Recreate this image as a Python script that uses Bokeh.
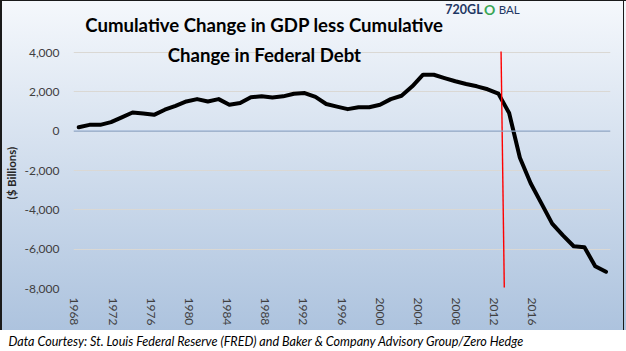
import math
from bokeh.plotting import figure
from bokeh.models import Range1d, FixedTicker, NumeralTickFormatter, Span, Label, Title
from bokeh.embed import file_html
from bokeh.resources import INLINE

# ---- data ----
years = list(range(1968, 2018))
gdp_less_debt = [
    200, 320, 320, 460, 700, 950, 900, 830, 1090, 1290,
    1510, 1630, 1510, 1630, 1340, 1430, 1730, 1770, 1710, 1770,
    1900, 1940, 1740, 1380, 1250, 1120, 1220, 1220, 1340, 1630,
    1800, 2280, 2870, 2870, 2700, 2540, 2400, 2280, 2130, 1910,
    920, -1350, -2650, -3670, -4700, -5300, -5850, -5900, -6870, -7150,
]
tick_labels = ["1968", "1972", "1976", "1980", "1984", "1988", "1992",
               "1996", "2000", "2004", "2008", "2012", "2016"]
y_ticks = [-8000, -6000, -4000, -2000, 0, 2000, 4000]
marker_year_top = 2007.25
marker_year_bottom = 2007.55
marker_top = 4050
marker_bottom = -7950

title_1 = "Cumulative Change in GDP less Cumulative"
title_2 = "Change in Federal Debt"
source_note = "Data Courtesy: St. Louis Federal Reserve (FRED) and Baker & Company Advisory Group/Zero Hedge"
y_label = "($ Billions)"

# ---- layout geometry (pixels) ----
W, H = 626, 351
LEFT, RIGHT = 67, 610
GRID_TOP, BOTTOM = 52, 288       # pixel rows of the 4,000 and -8,000 gridlines
FRAME_TOP = 0
x0 = 1967.513
px_per_year = 10.88
x1 = x0 + (RIGHT - LEFT) / px_per_year
y_min, y_max_tick = -8000, 4000
px_per_unit = (BOTTOM - GRID_TOP) / (y_max_tick - y_min)
y_top = y_min + (BOTTOM - FRAME_TOP) / px_per_unit

def px2x(px):
    return x0 + (px - LEFT) / px_per_year

def py2y(py):
    return y_min + (BOTTOM - py) / px_per_unit

bg = ("linear-gradient(#1a1a1a,#1a1a1a) 0 0 / 2px 330px no-repeat, "
      "linear-gradient(#1a1a1a,#1a1a1a) 0 0 / 626px 1px no-repeat, "
      "linear-gradient(#1a1a1a,#1a1a1a) 623px 0 / 1px 330px no-repeat, "
      "linear-gradient(to bottom, #f5f8fc, #adc3de) 0 0 / 626px 330px no-repeat, #ffffff")

p = figure(width=W, height=H, output_backend="svg", toolbar_location=None, title=None,
           x_range=Range1d(x0, x1), y_range=Range1d(y_min, y_top),
           min_border_left=LEFT, min_border_right=W - RIGHT,
           min_border_top=FRAME_TOP, min_border_bottom=H - BOTTOM,
           background_fill_color=None, border_fill_color=None,
           outline_line_color=None, styles={"background": bg})

# grid
p.xgrid.grid_line_color = None
p.ygrid.grid_line_color = "#dad8d4"
p.ygrid.grid_line_width = 1
p.ygrid.ticker = FixedTicker(ticks=y_ticks)

# y axis
ya = p.yaxis[0]
ya.ticker = FixedTicker(ticks=y_ticks)
ya.formatter = NumeralTickFormatter(format="0,0")
ya.axis_line_color = None
ya.major_tick_line_color = None
ya.minor_tick_line_color = None
ya.major_tick_out = 0
ya.major_tick_in = 0
ya.minor_tick_out = 0
ya.major_label_text_font = "Lato"
ya.major_label_text_font_size = "12px"
ya.major_label_text_color = "#404040"
ya.major_label_standoff = 14

# y axis title placed in the left panel
p.add_layout(Title(text=y_label, align="left", offset=89, vertical_align="middle", standoff=6,
                   text_font="Lato", text_font_style="bold", text_font_size="11.5px",
                   text_color="#262626"), "left")

# x axis with category-style labels
label_pos = [round(px2x(68 + k * 38.58), 3) for k in range(len(tick_labels))]
xa = p.xaxis[0]
xa.ticker = FixedTicker(ticks=label_pos)
xa.major_label_overrides = {pos: lab for pos, lab in zip(label_pos, tick_labels)}
xa.major_label_orientation = -math.pi / 2
xa.axis_line_color = None
xa.major_tick_line_color = None
xa.minor_tick_line_color = None
xa.major_tick_out = 0
xa.major_tick_in = 0
xa.minor_tick_out = 0
xa.major_label_text_font = "Lato"
xa.major_label_text_font_size = "12px"
xa.major_label_text_color = "#404040"
xa.major_label_standoff = 9

# source note below the axis
p.add_layout(Title(text=source_note, align="left", offset=2 - LEFT, vertical_align="bottom", standoff=6,
                   text_font="Lato", text_font_style="italic", text_font_size="12.6px",
                   text_color="#000000"), "below")

# zero line
p.add_layout(Span(location=0, dimension="width", line_color="#8ea8cb", line_width=1.3))

# main series
p.line(years, gdp_less_debt, line_color="black", line_width=4, line_join="round", line_cap="round")

# red marker
p.segment(x0=[marker_year_top], y0=[marker_top], x1=[marker_year_bottom], y1=[marker_bottom],
          line_color="#ff0000", line_width=1.4)

# titles and logo
for txt, py in [(title_1, 24), (title_2, 54)]:
    p.add_layout(Label(x=px2x(260), y=py2y(py), text=txt, text_align="center",
                       text_baseline="middle", text_font="Lato", text_font_style="bold",
                       text_font_size="18.6px", text_color="#000000"))

p.add_layout(Label(x=px2x(443), y=py2y(9), text="720GL", text_align="left", text_baseline="middle",
                   text_font="Lato", text_font_style="bold", text_font_size="12.5px", text_color="#1f3864"))
p.add_layout(Label(x=px2x(482), y=py2y(9), text="O", text_align="left", text_baseline="middle",
                   text_font="Lato", text_font_style="bold", text_font_size="14px", text_color="#3aa655"))
p.add_layout(Label(x=px2x(497), y=py2y(9), text="BAL", text_align="left", text_baseline="middle",
                   text_font="Lato", text_font_size="11.5px", text_color="#1f3864"))

open("out.html", "w").write(file_html(p, INLINE))
